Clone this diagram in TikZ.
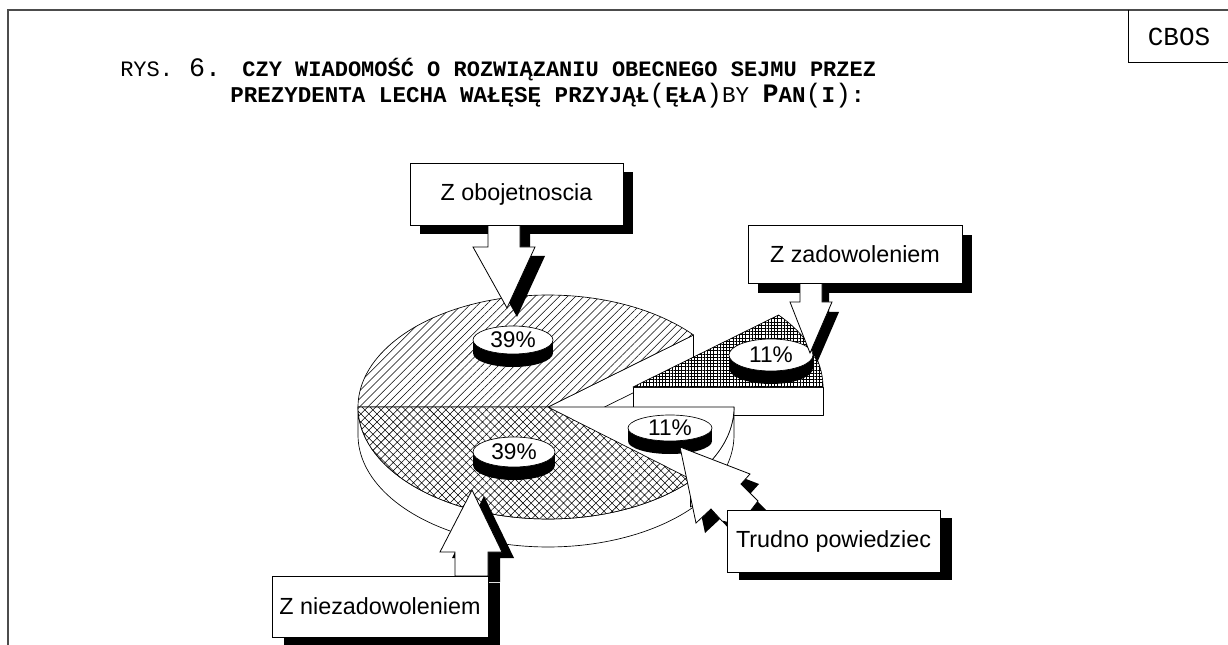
\documentclass[tikz,border=0pt]{standalone}
\usepackage{fontspec}
\setmainfont{Liberation Sans}
\newfontfamily\monofnt{Liberation Mono}
\usetikzlibrary{patterns.meta,shapes.geometric}
\newcommand\tsm[1]{{\fontsize{16.5pt}{18pt}\selectfont #1}}
\newcommand\tsmb[1]{{\fontsize{16.9pt}{18pt}\selectfont #1}}
\newcommand\tbg[1]{{\fontsize{20pt}{22pt}\selectfont #1}}
\newcommand\tpar[1]{{\mdseries\fontsize{20pt}{22pt}\selectfont #1}}
\begin{document}
\begin{tikzpicture}[x=0.75pt,y=-0.75pt,
  pieline/.style={draw=black,line width=0.5pt,line join=round},
  hatchA/.style={preaction={fill=white},pattern={Lines[angle=45,distance=4.3pt,line width=0.4pt]}},
  hatchB/.style={preaction={fill=white},pattern={Hatch[angle=45,distance=4.3pt,line width=0.4pt]}},
  hatchC/.style={preaction={fill=white},pattern={Hatch[angle=0,distance=2.4pt,line width=0.32pt]}},
  pct/.style={ellipse,draw=black,line width=0.5pt,fill=white,inner sep=0pt,font=\fontsize{17pt}{18pt}\selectfont},
  cline/.style={draw=black,line width=0.6pt,fill=white,line join=miter},
  cbox/.style={rectangle,draw=black,line width=0.7pt,fill=white,inner sep=0pt,font=\fontsize{17.5pt}{19pt}\selectfont},
  shadow/.style={fill=black}
]
\useasboundingbox (0,0) rectangle (1228,645);
% frame
\draw[line width=1.5pt,black!70] (8,645) -- (8,10) -- (1228,10);
\draw[line width=0.75pt] (1128,10) -- (1128,63) -- (1228,63);
\node[font=\monofnt\fontsize{19.5pt}{20pt}\selectfont,inner sep=0pt] (cbos) at (1179,37) {CBOS};
% title
\node[anchor=base west,inner sep=0pt,font=\monofnt] (t1) at (120,77)
  {\tsm{RYS.}\tbg{ 6. }\bfseries\tsm{CZY WIADOMOŚĆ O ROZWIĄZANIU OBECNEGO SEJMU PRZEZ}};
\node[anchor=base west,inner sep=0pt,font=\monofnt\bfseries] (t2) at (230,103)
  {\tsmb{PREZYDENTA LECHA WAŁĘSĘ PRZYJĄŁ}\tpar{(}\tsmb{ĘŁA}\tpar{)}{\mdseries\tsmb{BY }}\tbg{P}\tsmb{AN}\tpar{(}\tsmb{I}\tpar{)}\tsmb{:}};
% ---- pie ----
% cut face of upper slice
\draw[pieline,fill=white] (548,407) -- (693.5,335) -- (693.5,363) -- (548,435) -- cycle;
% outer side of main pie
\draw[pieline,fill=white] plot[domain=180:320,samples=70] ({548+190*cos(\x)},{407-112*sin(\x)})
  -- plot[domain=0:140,samples=70] ({548+190*cos(320-\x)},{435-112*sin(320-\x)}) -- cycle;
% upper slice ///
\draw[pieline,hatchA] (548,407) -- plot[domain=40:180,samples=70] ({548+190*cos(\x)},{407-112*sin(\x)}) -- cycle;
% lower slice XX
\draw[pieline,hatchB] (548,407) -- plot[domain=180:320,samples=70] ({548+190*cos(\x)},{407-112*sin(\x)}) -- cycle;
% exploded dense slice
\draw[pieline,fill=white] (633,387) rectangle (823,415);
\draw[pieline,hatchC] (633,387) -- plot[domain=0:40,samples=30] ({633+190*cos(\x)},{387-112*sin(\x)}) -- cycle;
% white slice side and top
\draw[pieline,fill=white] plot[domain=-40:0,samples=30] ({548+186*cos(\x)},{407-112*sin(\x)})
  -- plot[domain=0:40,samples=30] ({548+186*cos(-\x)},{435-112*sin(-\x)}) -- cycle;
\draw[pieline,fill=white] (548,407) -- plot[domain=-40:0,samples=30] ({548+186*cos(\x)},{407-112*sin(\x)}) -- cycle;
% ---- percentage labels ----
\fill (473,340) rectangle (553,353);
\fill (513,353) ellipse [x radius=30pt,y radius=10.5pt];
\node[pct,minimum width=60pt,minimum height=21pt] (p1) at (513,340) {39\%};
\fill (473,452) rectangle (555,465);
\fill (514,465) ellipse [x radius=30.75pt,y radius=11.25pt];
\node[pct,minimum width=61.5pt,minimum height=22.5pt] (p2) at (514,452) {39\%};
\fill (628,428) rectangle (712,441);
\fill (670,441) ellipse [x radius=31.5pt,y radius=9.75pt];
\node[pct,minimum width=63pt,minimum height=19.5pt] (p3) at (670,428) {11\%};
\fill (729,355) rectangle (813,368);
\fill (771,368) ellipse [x radius=31.5pt,y radius=12pt];
\node[pct,minimum width=63pt,minimum height=24pt] (p4) at (771,355) {11\%};
% ---- callout A: Z obojetnoscia ----
\fill[shadow,shift={(10,9)}] (488,225) -- (488,247) -- (473,247) -- (507,308) -- (535,247) -- (520,247) -- (520,225) -- cycle;
\fill[shadow] (420,172) rectangle (633,234);
\draw[cline] (488,225) -- (488,247) -- (473,247) -- (507,308) -- (535,247) -- (520,247) -- (520,225) -- cycle;
\node[cbox,minimum width=159.75pt,minimum height=46.5pt] (bA) at (516.5,194) {Z obojetnoscia};
% ---- callout B: Z zadowoleniem ----
\fill[shadow,shift={(7,10)}] (800,283) -- (800,302) -- (790,302) -- (810,353) -- (832,302) -- (822,302) -- (822,283) -- cycle;
\fill[shadow] (758,235) rectangle (972,293);
\draw[cline] (800,283) -- (800,302) -- (790,302) -- (810,353) -- (832,302) -- (822,302) -- (822,283) -- cycle;
\node[cbox,minimum width=160.5pt,minimum height=43.5pt] (bB) at (855,254) {Z zadowoleniem};
% ---- callout C: Z niezadowoleniem ----
\fill[shadow,shift={(12,6)}] (455,576) -- (455,552) -- (440,552) -- (472,490) -- (502,552) -- (488,552) -- (488,576) -- cycle;
\fill[shadow] (284,583) rectangle (500,645);
\draw[cline] (455,576) -- (455,552) -- (440,552) -- (472,490) -- (502,552) -- (488,552) -- (488,576) -- cycle;
\node[cbox,minimum width=162pt,minimum height=45.75pt] (bC) at (380,606.5) {Z niezadowoleniem};
% ---- callout D: Trudno powiedziec ----
\fill[shadow,shift={(9,10)}] (680,447) -- (750,474) -- (741,484) -- (758,501) -- (748,514) -- (735,524) -- (722,521) -- (711,509) -- (696,523) -- cycle;
\fill[shadow] (739,518) rectangle (952,580);
\draw[cline] (680,447) -- (750,474) -- (741,484) -- (758,501) -- (748,514) -- (735,524) -- (722,521) -- (711,509) -- (696,523) -- cycle;
\node[cbox,minimum width=159.75pt,minimum height=46.5pt] (bD) at (833.5,541) {Trudno powiedziec};
\end{tikzpicture}
\end{document}
